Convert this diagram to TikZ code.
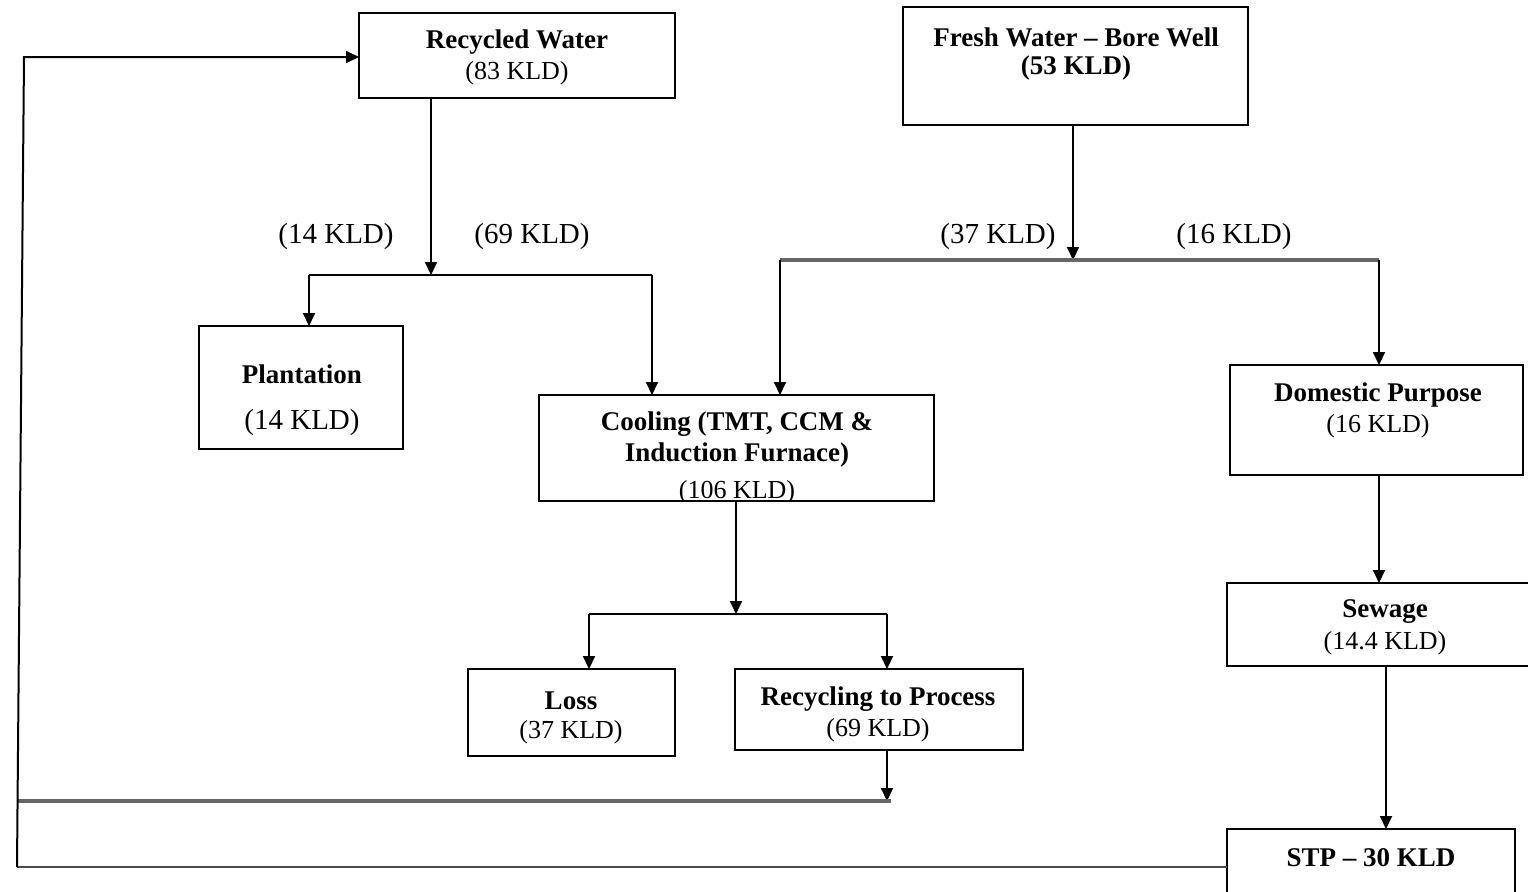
\documentclass[tikz,border=0pt]{standalone}
\usepackage{fontspec}
\setmainfont{Liberation Serif}
\usetikzlibrary{arrows.meta,fit}
\begin{document}
\begin{tikzpicture}[x=0.5pt,y=-0.5pt,
  box/.style={draw, line width=1pt, inner sep=0pt, outer sep=0pt, rectangle},
  txt/.style={font=\fontsize{13}{15.5}\selectfont, inner sep=0pt, yshift=-1.5pt},
  hd/.style={font=\fontsize{13.5}{15.5}\selectfont\bfseries, inner sep=0pt, yshift=-1.5pt},
  flow/.style={font=\fontsize{14.5}{16}\selectfont, inner sep=0pt, yshift=-1.5pt},
  ln/.style={line width=1pt},
  gln/.style={line width=1.6pt, draw=black!60},
  arr/.style={-{Triangle[length=6.5pt,width=6pt]}, line width=1pt}]
\useasboundingbox (0,0) rectangle (1528,891);

% boxes
\node[box, fit={(359,13) (675,98)}] (rw) {};
\node[box, fit={(903,7) (1248,125)}] (fw) {};
\node[box, fit={(199,326) (403,449)}] (pl) {};
\node[box, fit={(539,395) (934,501)}] (co) {};
\node[box, fit={(1230,365) (1523,475)}] (dp) {};
\node[box, fit={(1227,583) (1534,666)}] (sw) {};
\node[box, fit={(1227,829) (1515,897)}] (st) {};
\node[box, fit={(468,669) (675,756)}] (lo) {};
\node[box, fit={(735,669) (1023,750)}] (rp) {};

% texts
\node[hd]  (rw1) at (517,39) {Recycled Water};
\node[txt] (rw2) at (517,70) {(83 KLD)};
\node[hd]  (fw1) at (1076,34) {Fresh Water – Bore Well};
\node[hd]  (fw2) at (1076,65) {(53 KLD)};
\node[hd]  (pl1) at (302,371) {Plantation};
\node[flow] (pl2) at (302,420) {(14 KLD)};
\node[hd]  (co1) at (737,421) {Cooling (TMT, CCM \&};
\node[hd]  (co2) at (737,452) {Induction Furnace)};
\begin{scope}
  \clip (co.south west) rectangle (co.north east);
  \node[txt] (co3) at (737,489) {(106 KLD)};
\end{scope}
\node[hd]  (dp1) at (1378,392) {Domestic Purpose};
\node[txt] (dp2) at (1378,423) {(16 KLD)};
\node[hd]  (sw1) at (1385,609) {Sewage};
\node[txt] (sw2) at (1385,640) {(14.4 KLD)};
\node[hd]  (st1) at (1371,855) {STP – 30 KLD};
\node[hd]  (lo1) at (571,698) {Loss};
\node[txt] (lo2) at (571,729) {(37 KLD)};
\node[hd]  (rp1) at (878,696) {Recycling to Process};
\node[txt] (rp2) at (878,727) {(69 KLD)};

% flow labels
\node[flow] (f14) at (336,234) {(14 KLD)};
\node[flow] (f69) at (532,234) {(69 KLD)};
\node[flow] (f37) at (998,234) {(37 KLD)};
\node[flow] (f16) at (1234,234) {(16 KLD)};

% junctions
\coordinate (j1) at (431,275);
\coordinate (a1) at (309,275);
\coordinate (a2) at (652,275);
\coordinate (j2) at (1073,260);
\coordinate (b1) at (780,260);
\coordinate (b2) at (1379,260);
\coordinate (j3) at (736,614);
\coordinate (c1) at (589,614);
\coordinate (c2) at (887,614);
\coordinate (j4) at (887,801);
\coordinate (d0) at (17,801);
\coordinate (l1) at (17,867);
\coordinate (l2) at (24,57);

% recycled water split
\draw[arr] (j1 |- rw.south) -- (j1);
\draw[ln] (a1) -- (a2);
\draw[arr] (a1) -- (a1 |- pl.north);
\draw[arr] (a2) -- (a2 |- co.north);

% fresh water split
\draw[arr] (j2 |- fw.south) -- (j2);
\draw[gln] (b1) -- (b2);
\draw[arr] (b1) -- (b1 |- co.north);
\draw[arr] (b2) -- (b2 |- dp.north);

% cooling split
\draw[arr] (j3 |- co.south) -- (j3);
\draw[ln] (c1) -- (c2);
\draw[arr] (c1) -- (c1 |- lo.north);
\draw[arr] (c2) -- (c2 |- rp.north);

% recycling back
\draw[arr] (j4 |- rp.south) -- (j4);
\draw[gln] (d0) -- ([xshift=2pt]j4);

% domestic chain
\draw[arr] (1379,475) coordinate (dpb) -- (dpb |- sw.north);
\draw[arr] (1386,666) coordinate (swb) -- (swb |- st.north);

% loop back to recycled water
\draw[line width=1.3pt, draw=black!70] (st.west |- l1) -- (l1);
\draw[arr] (l1) -- (l2) -- (l2 -| rw.west);
\end{tikzpicture}
\end{document}
